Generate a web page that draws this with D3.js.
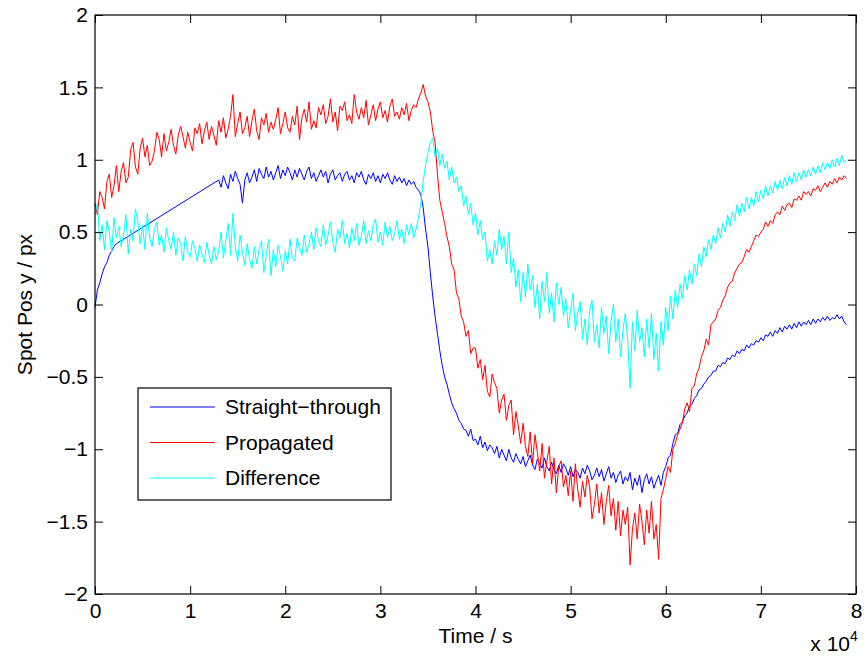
<!DOCTYPE html>
<html>
<head>
<meta charset="utf-8">
<script src="https://cdn.jsdelivr.net/npm/d3@7"></script>
<style>
  body { margin: 0; background: #fff; }
  svg text { font-family: "Liberation Sans", Arial, Helvetica, sans-serif; fill: #000; }
</style>
</head>
<body>
<svg id="chart" width="864" height="658"></svg>
<script>
// sample spacing of the recorded series, seconds
const sampleStep = 250

// Straight-through spot position (px); null = no sample recorded
const straightThrough = [
  -0.02, 0.10, 0.15, 0.21, 0.26, 0.29, 0.34, 0.37, 0.40, 0.42, null, null,
  null, null, null, null, null, null, null, null, null, null, null, null,
  null, null, null, null, null, null, null, null, null, null, null, null,
  null, null, null, null, null, null, null, null, null, null, null, null,
  null, null, null, null,
  0.86, 0.81, 0.89, 0.84, 0.80, 0.90, 0.85, 0.92, 0.87, 0.83, 0.70, 0.86,
  0.91, 0.84, 0.88, 0.93, 0.85, 0.94, 0.90, 0.87, 0.95, 0.88, 0.92, 0.86,
  0.91, 0.96, 0.87, 0.93, 0.89, 0.95, 0.91, 0.86, 0.93, 0.88, 0.94, 0.90,
  0.86, 0.92, 0.95, 0.87, 0.91, 0.85, 0.89, 0.93, 0.88, 0.92, 0.84, 0.90,
  0.93, 0.86, 0.89, 0.91, 0.85, 0.90, 0.92, 0.86, 0.89, 0.84, 0.91, 0.88,
  0.92, 0.86, 0.83, 0.90, 0.87, 0.91, 0.85, 0.89, 0.84, 0.90, 0.87, 0.91,
  0.86, 0.83, 0.89, 0.85, 0.88, 0.84, 0.87, 0.82, 0.86, 0.83, 0.85, 0.81,
  0.79, 0.76, 0.67, 0.52, 0.40, 0.22, 0.06, -0.08, -0.20, -0.32, -0.42, -0.50,
  -0.55, -0.62, -0.68, -0.72, -0.75, -0.80, -0.82, -0.86, -0.87, -0.91, -0.86, -0.94,
  -0.93, -0.97, -0.91, -0.99, -0.95, -1.01, -0.97, -0.99, -1.03, -0.98, -1.06, -1.00,
  -1.04, -1.08, -1.00, -1.06, -1.09, -1.03, -1.07, -1.10, -1.05, -1.12, -1.08, -1.04,
  -1.11, -1.14, -1.07, -1.10, -1.13, -1.06, -1.12, -1.15, -1.09, -1.14, -1.17, -1.11,
  -1.16, -1.10, -1.13, -1.18, -1.12, -1.19, -1.14, -1.16, -1.20, -1.13, -1.17, -1.11,
  -1.15, -1.21, -1.18, -1.13, -1.19, -1.14, -1.22, -1.17, -1.12, -1.20, -1.16, -1.23,
  -1.18, -1.15, -1.24, -1.19, -1.22, -1.16, -1.28, -1.20, -1.25, -1.18, -1.30, -1.21,
  -1.17, -1.24, -1.19, -1.27, -1.22, -1.18, -1.25, -1.16, -1.12, -1.06, -1.04, -0.96,
  -0.90, -0.89, -0.83, -0.81, -0.77, -0.75, -0.70, -0.69, -0.65, -0.63, -0.59, -0.58,
  -0.55, -0.53, -0.50, -0.49, -0.46, -0.46, -0.42, -0.43, -0.40, -0.41, -0.37, -0.38,
  -0.35, -0.36, -0.32, -0.34, -0.31, -0.32, -0.28, -0.30, -0.27, -0.28, -0.25, -0.26,
  -0.23, -0.25, -0.21, -0.22, -0.19, -0.22, -0.18, -0.20, -0.16, -0.19, -0.15, -0.17,
  -0.14, -0.17, -0.13, -0.16, -0.12, -0.15, -0.12, -0.14, -0.11, -0.14, -0.10, -0.13,
  -0.10, -0.12, -0.09, -0.11, -0.08, -0.11, -0.09, -0.10, -0.07, -0.10, -0.08, -0.12,
  -0.14
]

// Propagated spot position (px)
const propagated = [
  0.70, 0.62, 0.78, 0.74, 0.66, 0.85, 0.90, 0.74, 0.82, 0.96, 0.78, 0.92,
  0.98, 0.84, 0.88, 1.07, 1.12, 0.95, 0.90, 1.08, 1.15, 1.02, 1.10, 0.96,
  0.99, 1.06, 1.19, 1.14, 1.02, 1.18, 1.06, 1.12, 1.21, 1.10, 1.04, 1.17,
  1.23, 1.16, 1.08, 1.19, 1.12, 1.06, 1.22, 1.18, 1.25, 1.11, 1.20, 1.26,
  1.14, 1.23, 1.17, 1.10, 1.27, 1.19, 1.29, 1.15, 1.21, 1.30, 1.45, 1.16,
  1.25, 1.33, 1.18, 1.22, 1.30, 1.16, 1.27, 1.35, 1.20, 1.14, 1.29, 1.24,
  1.32, 1.19, 1.26, 1.21, 1.28, 1.36, 1.18, 1.25, 1.33, 1.22, 1.19, 1.30,
  1.24, 1.37, 1.14, 1.29, 1.35, 1.26, 1.40, 1.21, 1.27, 1.22, 1.36, 1.31,
  1.38, 1.25, 1.30, 1.42, 1.26, 1.33, 1.20, 1.37, 1.34, 1.40, 1.27, 1.31,
  1.25, 1.45, 1.33, 1.28, 1.36, 1.29, 1.41, 1.24, 1.31, 1.38, 1.27, 1.35,
  1.40, 1.29, 1.34, 1.26, 1.37, 1.42, 1.30, 1.33, 1.28, 1.36, 1.31, 1.39,
  1.27, 1.34, 1.38, 1.36, 1.42, 1.46, 1.52, 1.44, 1.40, 1.33, 1.20, 1.12,
  0.90, 0.72, 0.64, 0.56, 0.47, 0.40, 0.28, 0.24, 0.08, 0.04, -0.08, -0.12,
  -0.22, -0.18, -0.34, -0.30, -0.30, -0.44, -0.38, -0.52, -0.42, -0.60, -0.64, -0.48,
  -0.54, -0.58, -0.75, -0.66, -0.62, -0.80, -0.70, -0.66, -0.90, -0.74, -0.84, -0.96,
  -0.82, -0.98, -1.05, -0.88, -1.10, -0.90, -1.02, -1.15, -0.96, -1.20, -1.08, -0.98,
  -1.24, -1.06, -1.30, -1.12, -1.08, -1.26, -1.18, -1.32, -1.15, -1.36, -1.10, -1.28,
  -1.40, -1.22, -1.33, -1.18, -1.26, -1.48, -1.38, -1.24, -1.44, -1.30, -1.52, -1.36,
  -1.25, -1.46, -1.34, -1.56, -1.36, -1.60, -1.42, -1.52, -1.40, -1.80, -1.55, -1.44,
  -1.62, -1.38, -1.50, -1.66, -1.42, -1.58, -1.36, -1.62, -1.52, -1.76, -1.34, -1.28,
  -1.20, -1.12, -1.16, -1.00, -0.96, -0.90, -0.86, -0.82, -0.72, -0.68, -0.74, -0.58,
  -0.56, -0.48, -0.44, -0.36, -0.32, -0.24, -0.28, -0.14, -0.12, -0.10, -0.04, -0.02,
  0.03, 0.06, 0.12, 0.15, 0.16, 0.22, 0.25, 0.28, 0.29, 0.33, 0.38, 0.36,
  0.40, 0.44, 0.48, 0.47, 0.50, 0.52, 0.57, 0.54, 0.58, 0.56, 0.62, 0.64,
  0.62, 0.68, 0.65, 0.69, 0.70, 0.67, 0.73, 0.72, 0.75, 0.72, 0.78, 0.76,
  0.78, 0.75, 0.80, 0.79, 0.82, 0.78, 0.81, 0.84, 0.81, 0.85, 0.83, 0.87,
  0.84, 0.88, 0.86, 0.89, 0.87
]

// Difference spot position (px)
const difference = [
  0.62, 0.70, 0.44, 0.55, 0.38, 0.58, 0.50, 0.36, 0.60, 0.46, 0.54, 0.40,
  0.48, 0.62, 0.35, 0.52, 0.44, 0.66, 0.58, 0.42, 0.55, 0.38, 0.63, 0.46,
  0.40, 0.52, 0.57, 0.41, 0.48, 0.36, 0.53, 0.44, 0.38, 0.50, 0.34, 0.46,
  0.42, 0.30, 0.47, 0.36, 0.33, 0.44, 0.39, 0.30, 0.41, 0.35, 0.29, 0.43,
  0.34, 0.28, 0.40, 0.31, 0.37, 0.50, 0.32, 0.44, 0.56, 0.34, 0.63, 0.40,
  0.30, 0.48, 0.36, 0.27, 0.42, 0.31, 0.25, 0.40, 0.28, 0.38, 0.44, 0.22,
  0.34, 0.45, 0.20, 0.38, 0.26, 0.41, 0.33, 0.23, 0.37, 0.28, 0.45, 0.32,
  0.30, 0.46, 0.39, 0.34, 0.48, 0.36, 0.42, 0.50, 0.38, 0.53, 0.44, 0.40,
  0.55, 0.41, 0.48, 0.57, 0.43, 0.36, 0.52, 0.46, 0.58, 0.42, 0.49, 0.39,
  0.53, 0.44, 0.56, 0.41, 0.47, 0.58, 0.42, 0.51, 0.44, 0.55, 0.59, 0.43,
  0.50, 0.41, 0.57, 0.46, 0.54, 0.44, 0.49, 0.58, 0.45, 0.52, 0.42, 0.55,
  0.48, 0.56, 0.46, 0.52, 0.60, 0.70, 0.85, 0.96, 1.05, 1.12, 1.15, 1.02,
  1.08, 0.96, 1.04, 0.94, 0.99, 0.86, 0.95, 0.84, 0.88, 0.78, 0.82, 0.68,
  0.75, 0.62, 0.70, 0.55, 0.63, 0.48, 0.58, 0.45, 0.50, 0.30, 0.38, 0.28,
  0.44, 0.34, 0.52, 0.38, 0.47, 0.28, 0.50, 0.22, 0.32, 0.12, 0.24, 0.02,
  0.22, 0.05, 0.28, 0.10, 0.20, -0.02, 0.14, -0.10, 0.16, 0.02, 0.22, -0.06,
  0.08, -0.12, 0.15, 0.00, 0.12, -0.08, 0.04, -0.16, -0.04, 0.08, -0.18, -0.06,
  0.02, -0.24, -0.10, -0.28, -0.04, 0.03, -0.26, -0.14, -0.30, -0.02, -0.20, -0.08,
  -0.34, -0.12, 0.00, -0.26, -0.10, -0.36, -0.18, -0.06, -0.24, -0.58, -0.12, -0.32,
  -0.04, -0.26, -0.16, -0.36, -0.10, -0.30, -0.06, -0.38, -0.20, -0.46, -0.12, -0.28,
  -0.02, -0.18, 0.06, -0.10, 0.10, -0.02, 0.14, 0.04, 0.20, 0.10, 0.24, 0.14,
  0.28, 0.20, 0.35, 0.26, 0.40, 0.33, 0.45, 0.38, 0.48, 0.42, 0.53, 0.46,
  0.56, 0.50, 0.62, 0.54, 0.64, 0.58, 0.69, 0.61, 0.70, 0.64, 0.74, 0.66,
  0.74, 0.68, 0.78, 0.71, 0.79, 0.73, 0.82, 0.75, 0.82, 0.77, 0.85, 0.79,
  0.86, 0.80, 0.88, 0.82, 0.89, 0.83, 0.91, 0.85, 0.91, 0.86, 0.93, 0.88,
  0.93, 0.89, 0.95, 0.90, 0.96, 0.91, 0.98, 0.93, 0.98, 0.94, 1.00, 0.95,
  1.01, 0.96, 1.03, 0.98, 1.00
]

const seriesNames = ['Straight\u2212through', 'Propagated', 'Difference']
const seriesColors = ['#0000ff', '#ff0000', '#00ffff']
const xTicks = [0, 10000, 20000, 30000, 40000, 50000, 60000, 70000, 80000]
const xTickLabels = ['0', '1', '2', '3', '4', '5', '6', '7', '8']
const yTicks = [-2, -1.5, -1, -0.5, 0, 0.5, 1, 1.5, 2]

const margin = { top: 15, right: 8, bottom: 64, left: 95 }
const width = 864 - margin.left - margin.right
const height = 658 - margin.top - margin.bottom
const fontSize = '21px'

function toPoints(values) {
  return values
    .map((v, i) => ({ t: i * sampleStep, v: v }))
    .filter(d => d.v !== null)
}

const svg = d3.select('#chart')
const g = svg.append('g')
  .attr('transform', `translate(${margin.left},${margin.top})`)

const x = d3.scaleLinear()
  .domain([0, 80000])
  .range([0, width])

const y = d3.scaleLinear()
  .domain([-2, 2])
  .range([height, 0])

const line = d3.line()
  .x(d => x(d.t))
  .y(d => y(d.v))

const allSeries = [straightThrough, propagated, difference]
allSeries.forEach((values, i) => {
  g.append('path')
    .datum(toPoints(values))
    .attr('fill', 'none')
    .attr('stroke', seriesColors[i])
    .attr('stroke-width', 1)
    .attr('d', line)
})

// axes: matlab style, ticks pointing inwards on all four sides
const tickLen = 8
const fmtY = d3.format('~g')

g.append('g')
  .attr('transform', `translate(0,${height})`)
  .call(d3.axisBottom(x).tickValues(xTicks).tickSize(-tickLen).tickPadding(9)
    .tickFormat((d, i) => xTickLabels[i]))

g.append('g')
  .call(d3.axisLeft(y).tickValues(yTicks).tickSize(-tickLen).tickPadding(7)
    .tickFormat(d => fmtY(d)))

g.append('g')
  .call(d3.axisTop(x).tickValues(xTicks).tickSize(-tickLen).tickFormat(''))

g.append('g')
  .attr('transform', `translate(${width},0)`)
  .call(d3.axisRight(y).tickValues(yTicks).tickSize(-tickLen).tickFormat(''))

g.selectAll('.tick line').attr('stroke', '#000')
g.selectAll('.tick text')
  .attr('fill', '#000')
  .style('font-size', fontSize)

// the domain path of d3 axes adds outer ticks; redraw a clean box instead
g.selectAll('.domain').remove()
g.append('rect')
  .attr('width', width)
  .attr('height', height)
  .attr('fill', 'none')
  .attr('stroke', '#000')
  .attr('stroke-width', 1.2)

// axis titles
svg.append('text')
  .attr('x', margin.left + width / 2)
  .attr('y', 643)
  .attr('text-anchor', 'middle')
  .style('font-size', fontSize)
  .text('Time / s')

svg.append('text')
  .attr('transform', `translate(32,${margin.top + height / 2}) rotate(-90)`)
  .attr('text-anchor', 'middle')
  .style('font-size', fontSize)
  .text('Spot Pos y / px')

svg.append('text')
  .attr('x', 850)
  .attr('y', 651)
  .attr('text-anchor', 'end')
  .style('font-size', fontSize)
  .text('x 10')
svg.append('text')
  .attr('x', 850)
  .attr('y', 641)
  .style('font-size', '14px')
  .text('4')

// legend
const legend = g.append('g')
  .attr('transform', `translate(${138 - margin.left},${388 - margin.top})`)

legend.append('rect')
  .attr('width', 253)
  .attr('height', 112)
  .attr('fill', '#fff')
  .attr('stroke', '#000')
  .attr('stroke-width', 1.2)

seriesNames.forEach((name, i) => {
  const row = legend.append('g')
    .attr('transform', `translate(0,${19 + i * 35.5})`)
  row.append('line')
    .attr('x1', 12)
    .attr('x2', 77)
    .attr('stroke', seriesColors[i])
    .attr('stroke-width', 1)
  row.append('text')
    .attr('x', 87)
    .attr('dy', '0.35em')
    .style('font-size', fontSize)
    .text(name)
})
</script>
</body>
</html>
